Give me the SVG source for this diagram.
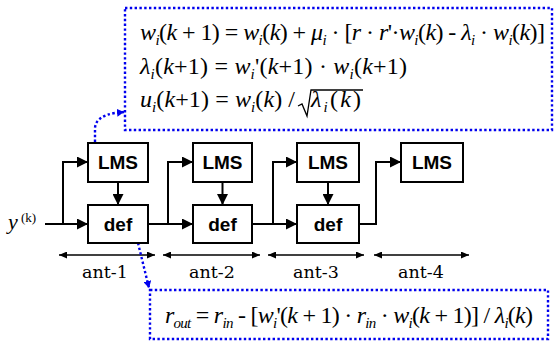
<svg xmlns="http://www.w3.org/2000/svg" width="554" height="343" viewBox="0 0 554 343">
<style>
.box{fill:#fff;stroke:#000;stroke-width:2}
.lbl{font-family:"Liberation Sans",Arial,sans-serif;font-weight:bold;font-size:19px;text-anchor:middle}
.wire{fill:none;stroke:#000;stroke-width:2}
.dim{fill:none;stroke:#000;stroke-width:1.3}
.dot{fill:none;stroke:#0000ee;stroke-width:2.4;stroke-dasharray:2.4 2.4}
.f{font-family:"Liberation Serif","Times New Roman",serif;font-size:24px}
.v{font-style:italic}
.s{font-style:italic;font-size:15px}
.ant{font-family:"DejaVu Serif",serif;font-size:17.5px;text-anchor:middle}
</style>
<defs>
<marker id="ah" markerUnits="userSpaceOnUse" markerWidth="12" markerHeight="11" refX="11" refY="5.5" orient="auto">
<path d="M0,0 L11,5.5 L0,11 Z" fill="#000"/>
</marker>
<marker id="dh" markerUnits="userSpaceOnUse" markerWidth="9" markerHeight="7" refX="8" refY="3.5" orient="auto-start-reverse">
<path d="M0,0 L8,3.5 L0,7 Z" fill="#000"/>
</marker>
<marker id="bh" markerUnits="userSpaceOnUse" markerWidth="8" markerHeight="8" refX="7" refY="4" orient="auto">
<path d="M0,0 L7,4 L0,8 Z" fill="#0000ee"/>
</marker>
</defs>

<g id="eq-top">
<rect x="125" y="8" width="427" height="122" fill="#fff" class="dot"/>
<text class="f" x="140" y="40" textLength="405" lengthAdjust="spacing"><tspan class="v">w</tspan><tspan class="s" dy="5">i</tspan><tspan dy="-5">(</tspan><tspan class="v">k</tspan> + 1) = <tspan class="v">w</tspan><tspan class="s" dy="5">i</tspan><tspan dy="-5">(</tspan><tspan class="v">k</tspan>) + <tspan class="v">μ</tspan><tspan class="s" dy="5">i</tspan><tspan dy="-5"> · [</tspan><tspan class="v">r</tspan> · <tspan class="v">r</tspan>'·<tspan class="v">w</tspan><tspan class="s" dy="5">i</tspan><tspan dy="-5">(</tspan><tspan class="v">k</tspan>) - <tspan class="v">λ</tspan><tspan class="s" dy="5">i</tspan><tspan dy="-5"> · </tspan><tspan class="v">w</tspan><tspan class="s" dy="5">i</tspan><tspan dy="-5">(</tspan><tspan class="v">k</tspan>)]</text>
<text class="f" x="140" y="74" textLength="267" lengthAdjust="spacing"><tspan class="v">λ</tspan><tspan class="s" dy="5">i</tspan><tspan dy="-5">(</tspan><tspan class="v">k</tspan>+1) = <tspan class="v">w</tspan><tspan class="s" dy="5">i</tspan><tspan dy="-5">'(</tspan><tspan class="v">k</tspan>+1) · <tspan class="v">w</tspan><tspan class="s" dy="5">i</tspan><tspan dy="-5">(</tspan><tspan class="v">k</tspan>+1)</text>
<text class="f" x="140" y="107" textLength="155" lengthAdjust="spacing"><tspan class="v">u</tspan><tspan class="s" dy="5">i</tspan><tspan dy="-5">(</tspan><tspan class="v">k</tspan>+1) = <tspan class="v">w</tspan><tspan class="s" dy="5">i</tspan><tspan dy="-5">(</tspan><tspan class="v">k</tspan>) /</text>
<path d="M298 106 L302 104 L307 116 L311 90 H363" fill="none" stroke="#000" stroke-width="1.3"/>
<text class="f" x="311" y="107" textLength="50" lengthAdjust="spacing"><tspan class="v">λ</tspan><tspan class="s" dy="5">i</tspan><tspan dy="-5">(</tspan><tspan class="v">k</tspan>)</text>
</g>

<g id="eq-bottom">
<rect x="150" y="290" width="398" height="49" fill="#fff" class="dot"/>
<text class="f" x="165" y="323" textLength="368" lengthAdjust="spacing"><tspan class="v">r</tspan><tspan class="s" dy="5">out</tspan><tspan dy="-5"> = </tspan><tspan class="v">r</tspan><tspan class="s" dy="5">in</tspan><tspan dy="-5"> - [</tspan><tspan class="v">w</tspan><tspan class="s" dy="5">i</tspan><tspan dy="-5">'(</tspan><tspan class="v">k</tspan> + 1) · <tspan class="v">r</tspan><tspan class="s" dy="5">in</tspan><tspan dy="-5"> · </tspan><tspan class="v">w</tspan><tspan class="s" dy="5">i</tspan><tspan dy="-5">(</tspan><tspan class="v">k</tspan> + 1)] / <tspan class="v">λ</tspan><tspan class="s" dy="5">i</tspan><tspan dy="-5">(</tspan><tspan class="v">k</tspan>)</text>
</g>

<g id="input">
<text x="8" y="229" style="font-family:'Liberation Serif',serif;font-style:italic;font-size:22px">y</text>
<text x="21" y="222" style="font-family:'Liberation Serif',serif;font-size:13px">(k)</text>
</g>

<g id="connectors">
<path class="wire" d="M45 224 H88" marker-end="url(#ah)"/>
<path class="wire" d="M63 224 V162 H88" marker-end="url(#ah)"/>
<path class="wire" d="M118 182 V205" marker-end="url(#ah)"/>
<path class="wire" d="M148 224 H193" marker-end="url(#ah)"/>
<path class="wire" d="M168 224 V162 H193" marker-end="url(#ah)"/>
<path class="wire" d="M222.5 182 V205" marker-end="url(#ah)"/>
<path class="wire" d="M252 224 H297" marker-end="url(#ah)"/>
<path class="wire" d="M273 224 V162 H297" marker-end="url(#ah)"/>
<path class="wire" d="M328 182 V205" marker-end="url(#ah)"/>
<path class="wire" d="M359 224 H376 V162 H401" marker-end="url(#ah)"/>
<path class="dim" d="M59 255 H155" marker-start="url(#dh)" marker-end="url(#dh)"/>
<path class="dim" d="M163 255 H260" marker-start="url(#dh)" marker-end="url(#dh)"/>
<path class="dim" d="M268 255 H364" marker-start="url(#dh)" marker-end="url(#dh)"/>
<path class="dim" d="M374 255 H469" marker-start="url(#dh)" marker-end="url(#dh)"/>
<path class="dot" d="M95 142 V128 Q96 116 115 113 L124 112" marker-end="url(#bh)"/>
<path class="dot" d="M138 243 L149 288" marker-end="url(#bh)"/>
</g>

<g id="lms1"><rect class="box" x="88" y="143" width="60" height="39"/><text class="lbl" x="118" y="169">LMS</text></g>
<g id="def1"><rect class="box" x="88" y="205" width="60" height="38"/><text class="lbl" x="118" y="231">def</text></g>
<g id="lms2"><rect class="box" x="193" y="143" width="59" height="39"/><text class="lbl" x="222.5" y="169">LMS</text></g>
<g id="def2"><rect class="box" x="193" y="205" width="59" height="38"/><text class="lbl" x="222.5" y="231">def</text></g>
<g id="lms3"><rect class="box" x="297" y="143" width="62" height="39"/><text class="lbl" x="328" y="169">LMS</text></g>
<g id="def3"><rect class="box" x="297" y="205" width="62" height="38"/><text class="lbl" x="328" y="231">def</text></g>
<g id="lms4"><rect class="box" x="401" y="143" width="62" height="39"/><text class="lbl" x="432" y="169">LMS</text></g>

<g id="labels">
<text class="ant" x="105" y="278">ant-1</text>
<text class="ant" x="212" y="278">ant-2</text>
<text class="ant" x="316" y="278">ant-3</text>
<text class="ant" x="421" y="278">ant-4</text>
</g>
</svg>
